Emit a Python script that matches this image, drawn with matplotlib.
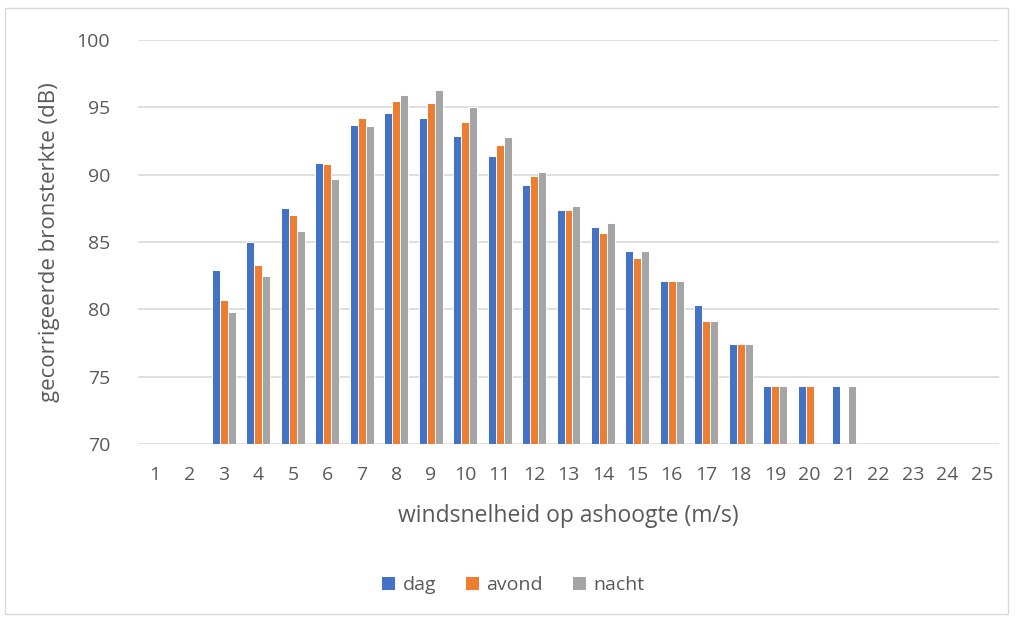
import matplotlib.pyplot as plt
import numpy as np
from matplotlib.patches import Rectangle

# windsnelheid categorieen
snelheden = list(range(1, 26))

# gecorrigeerde bronsterkte per periode (NaN = geen balk)
nan = np.nan
dag = [nan, nan, 82.9, 85.0, 87.5, 90.9, 93.7, 94.6, 94.2, 92.9, 91.4, 89.2, 87.4,
       86.1, 84.3, 82.1, 80.3, 77.4, 74.3, 74.3, 74.3, nan, nan, nan, nan]
avond = [nan, nan, 80.7, 83.3, 87.0, 90.8, 94.2, 95.5, 95.3, 93.9, 92.2, 89.9, 87.4,
         85.7, 83.8, 82.1, 79.1, 77.4, 74.3, 74.3, nan, nan, nan, nan, nan]
nacht = [nan, nan, 79.8, 82.5, 85.8, 89.7, 93.6, 95.9, 96.3, 95.0, 92.8, 90.2, 87.7,
         86.4, 84.3, 82.1, 79.1, 77.4, 74.3, nan, 74.3, nan, nan, nan, nan]

plt.rcParams['font.family'] = ['Open Sans', 'DejaVu Sans']
tekstkleur = '#595959'

fig = plt.figure(figsize=(10.16, 6.17), dpi=100)
ax = fig.add_axes([137.8 / 1016, 1 - 444 / 617, (999.2 - 137.8) / 1016, (444 - 40) / 617])

x = np.arange(len(snelheden))
w = 0.232
ax.bar(x - w, np.nan_to_num(dag, nan=0), w, color='#4472C4', edgecolor='white', linewidth=0.7, label='dag')
ax.bar(x, np.nan_to_num(avond, nan=0), w, color='#ED7D31', edgecolor='white', linewidth=0.7, label='avond')
ax.bar(x + w, np.nan_to_num(nacht, nan=0), w, color='#A5A5A5', edgecolor='white', linewidth=0.7, label='nacht')

ax.set_ylim(70, 100)
ax.set_xlim(-0.5, len(snelheden) - 0.5)
ax.set_yticks(range(70, 101, 5))
ax.set_xticks(x)
ax.set_xticklabels([str(s) for s in snelheden])
ax.yaxis.grid(True, color='#D9D9D9', linewidth=1.2)
ax.set_axisbelow(True)
for s in ax.spines.values():
    s.set_visible(False)
ax.tick_params(length=0, colors=tekstkleur, labelsize=14)
ax.tick_params(axis='y', pad=20)
ax.tick_params(axis='x', pad=16)

ax.set_xlabel('windsnelheid op ashoogte (m/s)', fontsize=16.5, color=tekstkleur, labelpad=14)
ax.set_ylabel('gecorrigeerde bronsterkte (dB)', fontsize=16, color=tekstkleur, labelpad=12)

fig.legend(loc='center', bbox_to_anchor=(513 / 1016, 1 - 585 / 617), ncol=3, frameon=False,
           fontsize=14, labelcolor=tekstkleur, handlelength=0.7, handleheight=0.7,
           handletextpad=0.4, columnspacing=1.5)

fig.patches.append(Rectangle((5 / 1016, 0.005), 1003 / 1016, 1 - 8 / 617 - 0.005,
                             transform=fig.transFigure, fill=False, edgecolor='#D9D9D9', linewidth=1))

fig.savefig('out.png', dpi=100)
